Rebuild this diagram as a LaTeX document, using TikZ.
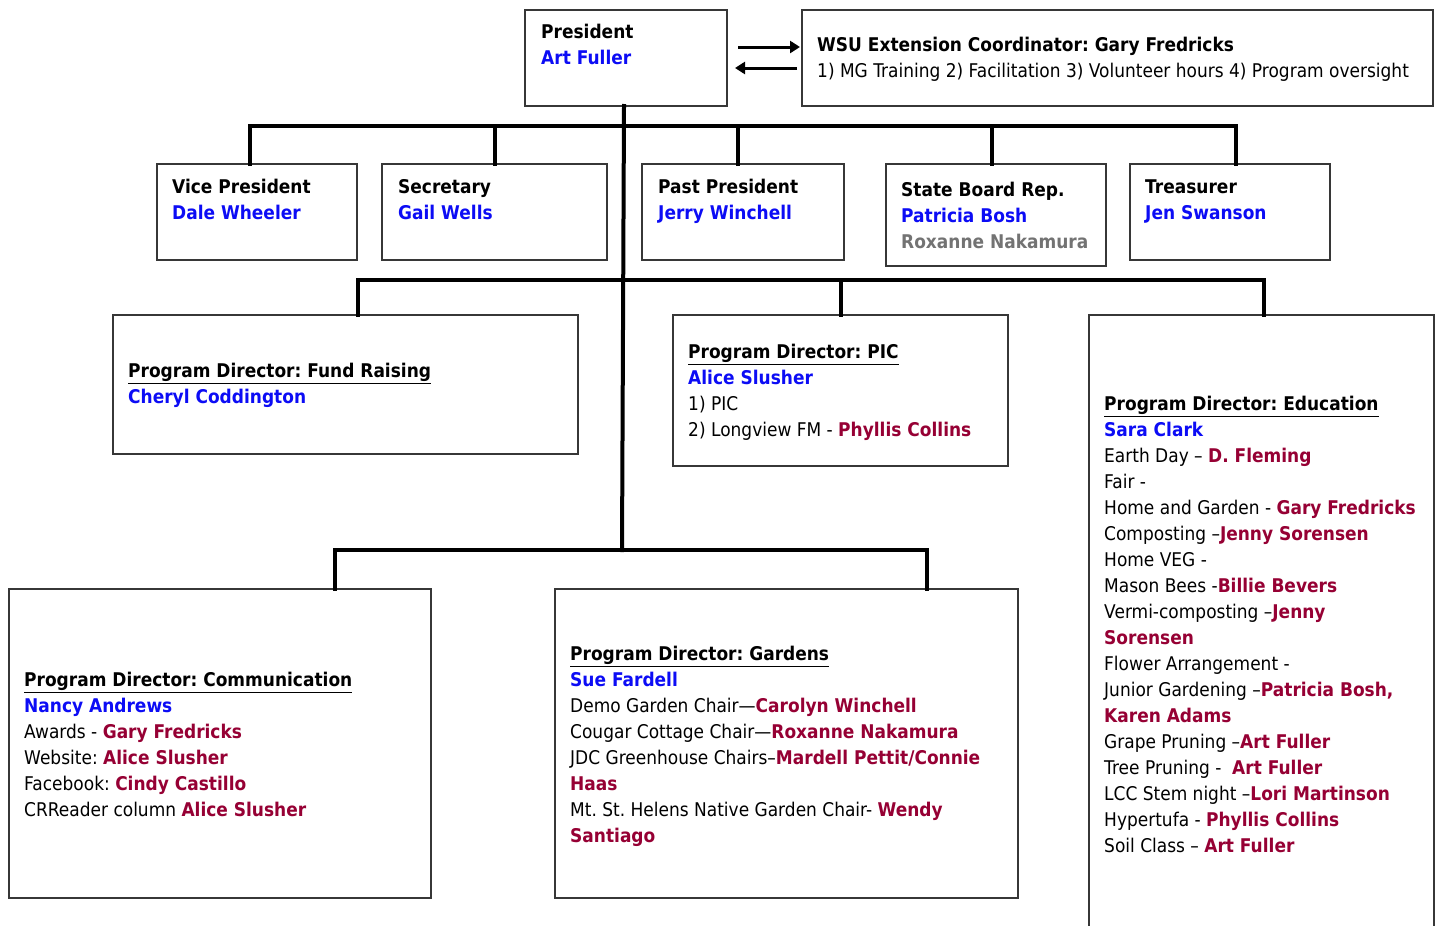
\documentclass[tikz,border=0pt]{standalone}
\usepackage{fontspec}
\setmainfont{DejaVu Sans}[FakeStretch=0.9]
\usepackage{xcolor}
\usetikzlibrary{arrows.meta, positioning, calc}
\definecolor{nameblue}{RGB}{12,12,245}
\definecolor{namered}{RGB}{150,0,52}
\definecolor{namegray}{RGB}{115,115,115}
\definecolor{boxgray}{RGB}{55,55,55}
\newcommand{\officer}[1]{\textbf{\textcolor{nameblue}{#1}}}
\newcommand{\helper}[1]{\textbf{\textcolor{namered}{#1}}}
\newcommand{\pdhead}[1]{\underline{\textbf{#1}}}
\frenchspacing
\tikzset{
    orgbox/.style={rectangle, draw=boxgray, line width=1.4pt, fill=white, inner sep=0pt, outer sep=0pt},
    orgtext/.style={anchor=north west, align=left, inner sep=0pt, font=\fontsize{18.9}{26}\selectfont},
    conn/.style={line width=4pt, line cap=rect},
    twoway/.style={-{Triangle[length=10pt,width=12pt]}, line width=3pt},
}

\begin{document}
\begin{tikzpicture}[x=1pt, y=-1pt]
    \useasboundingbox (0,0) rectangle (1440,926);
    \clip (0,0) rectangle (1440,926);

    % === TOP ===
    \node[orgbox, minimum width=202pt, minimum height=96pt] (pres) at (626,58) {};
    \node[orgtext] (pres-t) at (541,24) {\textbf{President}\\\officer{Art Fuller}};
    \node[orgbox, minimum width=631pt, minimum height=96pt] (wsu) at (1117.5,58) {};
    \node[orgtext] (wsu-t) at (817,37) {\textbf{WSU Extension Coordinator: Gary Fredricks}\\1) MG Training 2) Facilitation 3) Volunteer hours 4) Program oversight};

    \draw[twoway] ([xshift=11pt,yshift=11pt]pres.east) -- ([xshift=-2pt,yshift=11pt]wsu.west);
    \draw[twoway] ([xshift=-5pt,yshift=-10pt]wsu.west) -- ([xshift=8pt,yshift=-10pt]pres.east);

    % === OFFICERS ===
    \node[orgbox, minimum width=200pt, minimum height=96pt] (vp) at (257,212) {};
    \node[orgtext] (vp-t) at (172,179) {\textbf{Vice President}\\\officer{Dale Wheeler}};
    \node[orgbox, minimum width=225pt, minimum height=96pt] (sec) at (494.5,212) {};
    \node[orgtext] (sec-t) at (398,179) {\textbf{Secretary}\\\officer{Gail Wells}};
    \node[orgbox, minimum width=202pt, minimum height=96pt] (past) at (743,212) {};
    \node[orgtext] (past-t) at (658,179) {\textbf{Past President}\\\officer{Jerry Winchell}};
    \node[orgbox, minimum width=220pt, minimum height=102pt] (sbr) at (996,215) {};
    \node[orgtext] (sbr-t) at (901,182) {\textbf{State Board Rep.}\\\officer{Patricia Bosh}\\\textbf{\textcolor{namegray}{Roxanne Nakamura}}};
    \node[orgbox, minimum width=200pt, minimum height=96pt] (trs) at (1230,212) {};
    \node[orgtext] (trs-t) at (1145,180) {\textbf{Treasurer}\\\officer{Jen Swanson}};

    % === PROGRAM DIRECTORS ===
    \node[orgbox, minimum width=465pt, minimum height=139pt] (fund) at (345.5,384.5) {};
    \node[orgtext] (fund-t) at (128,363) {\pdhead{Program Director: Fund Raising}\\\officer{Cheryl Coddington}};
    \node[orgbox, minimum width=335pt, minimum height=151pt] (pic) at (840.5,390.5) {};
    \node[orgtext] (pic-t) at (688,344) {\pdhead{Program Director: PIC}\\\officer{Alice Slusher}\\1) PIC\\2) Longview FM - \helper{Phyllis Collins}};
    \node[orgbox, minimum width=345pt, minimum height=645pt] (edu) at (1261.5,637.5) {};
    \node[orgtext] (edu-t) at (1104,396) {\pdhead{Program Director: Education}\\\officer{Sara Clark}\\
        Earth Day – \helper{D. Fleming}\\Fair -\\Home and Garden - \helper{Gary Fredricks}\\
        Composting –\helper{Jenny Sorensen}\\Home VEG -\\Mason Bees -\helper{Billie Bevers}\\
        Vermi-composting –\helper{Jenny}\\\helper{Sorensen}\\Flower Arrangement -\\
        Junior Gardening –\helper{Patricia Bosh,}\\\helper{Karen Adams}\\Grape Pruning –\helper{Art Fuller}\\
        Tree Pruning -\ \ \helper{Art Fuller}\\LCC Stem night –\helper{Lori Martinson}\\
        Hypertufa - \helper{Phyllis Collins}\\Soil Class – \helper{Art Fuller}};

    \node[orgbox, minimum width=422pt, minimum height=309pt] (comm) at (220,743.5) {};
    \node[orgtext] (comm-t) at (24,672) {\pdhead{Program Director: Communication}\\\officer{Nancy Andrews}\\
        Awards - \helper{Gary Fredricks}\\Website: \helper{Alice Slusher}\\
        Facebook: \helper{Cindy Castillo}\\CRReader column \helper{Alice Slusher}};
    \node[orgbox, minimum width=463pt, minimum height=309pt] (gard) at (786.5,743.5) {};
    \node[orgtext] (gard-t) at (570,646) {\pdhead{Program Director: Gardens}\\\officer{Sue Fardell}\\
        Demo Garden Chair—\helper{Carolyn Winchell}\\Cougar Cottage Chair—\helper{Roxanne Nakamura}\\
        JDC Greenhouse Chairs–\helper{Mardell Pettit/Connie}\\\helper{Haas}\\
        Mt. St. Helens Native Garden Chair- \helper{Wendy}\\\helper{Santiago}};

    % === CONNECTORS ===
    \coordinate (bus1) at (624,126);
    \coordinate (bus2) at (624,280);
    \coordinate (bus3) at (622,550);
    \draw[conn] ([xshift=-2pt]pres.south) -- ([xshift=-4pt]pres.south |- bus3);
    \draw[conn] ([xshift=-7pt]vp.north) |- ([xshift=6pt]trs.north |- bus1) -- ([xshift=6pt]trs.north);
    \draw[conn] (sec.north) -- (sec.north |- bus1);
    \draw[conn] ([xshift=-5pt]past.north) -- ([xshift=-5pt]past.north |- bus1);
    \draw[conn] ([xshift=-4pt]sbr.north) -- ([xshift=-4pt]sbr.north |- bus1);
    \draw[conn] ([xshift=12pt]fund.north) |- ([xshift=2pt]edu.north |- bus2) -- ([xshift=2pt]edu.north);
    \draw[conn] (pic.north) -- (pic.north |- bus2);
    \draw[conn] ([xshift=115pt]comm.north) |- ([xshift=140pt]gard.north |- bus3) -- ([xshift=140pt]gard.north);
\end{tikzpicture}
\end{document}
